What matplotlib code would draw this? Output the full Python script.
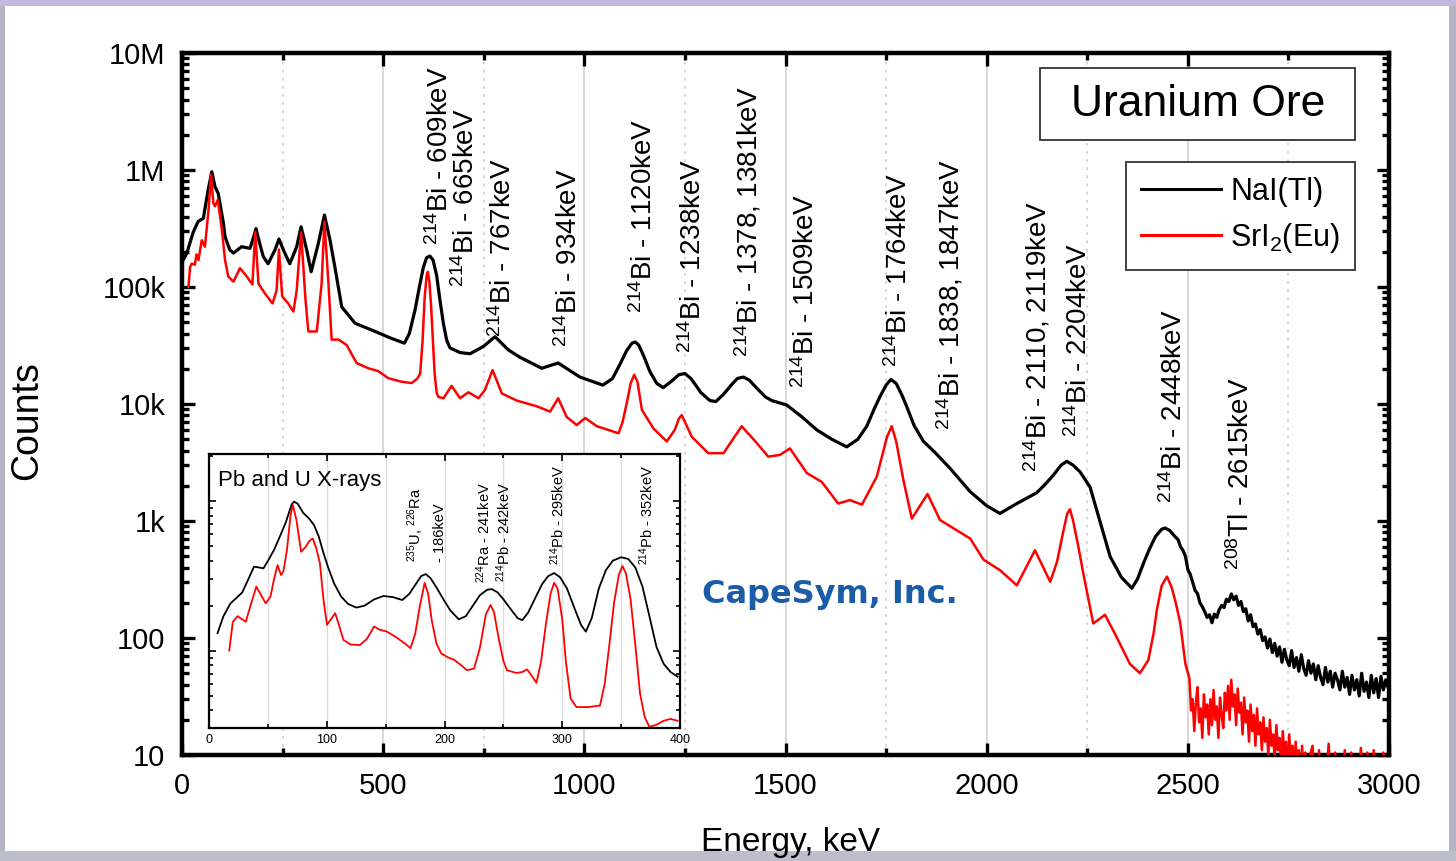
import matplotlib
matplotlib.use("Agg")
import matplotlib.pyplot as plt
from matplotlib import font_manager
from matplotlib.patches import Rectangle
from matplotlib.ticker import MultipleLocator, LogLocator, FuncFormatter, NullFormatter

plt.rcParams['font.family'] = ['Liberation Sans', 'DejaVu Sans']
plt.rcParams['mathtext.fontset'] = 'custom'
plt.rcParams['mathtext.rm'] = 'Liberation Sans'
plt.rcParams['mathtext.it'] = 'Liberation Sans:italic'
plt.rcParams['mathtext.default'] = 'regular'

installed = {f.name for f in font_manager.fontManager.ttflist}
tick_family = 'Liberation Sans Narrow' if 'Liberation Sans Narrow' in installed else 'Liberation Sans'
tick_size = 24 if tick_family == 'Liberation Sans Narrow' else 21

# ---- full spectra (keV, counts) ----
nai_keV = [3, 12, 28, 40, 53, 65, 74, 82, 90, 103, 107, 119, 128, 148, 169, 177, 184, 191,
           202, 214, 231, 241, 254, 268, 285, 296, 310, 321, 339, 354, 368, 380, 397, 430,
           480, 521, 553, 565, 579, 590, 600, 608, 616, 624, 633, 641, 650, 658, 666, 691,
           716, 749, 778, 811, 840, 894, 935, 989, 1046, 1070, 1089, 1105, 1118, 1126, 1135,
           1148, 1163, 1180, 1196, 1215, 1235, 1250, 1265, 1290, 1312, 1327, 1345, 1365,
           1380, 1395, 1410, 1430, 1450, 1466, 1503, 1540, 1578, 1615, 1652, 1680, 1702,
           1720, 1735, 1750, 1762, 1775, 1790, 1801, 1820, 1843, 1870, 1909, 1959, 2000,
           2033, 2075, 2124, 2145, 2166, 2185, 2199, 2215, 2232, 2257, 2282, 2307, 2335,
           2361, 2375, 2390, 2405, 2420, 2435, 2443, 2455, 2463,
           2470, 2476, 2482, 2488, 2494, 2500, 2506, 2512, 2518, 2524, 2530, 2536, 2542,
           2548, 2554, 2560, 2566, 2572, 2578, 2584, 2590, 2596, 2602, 2608, 2614, 2620,
           2626, 2632, 2638, 2644, 2650, 2656, 2662, 2668, 2674, 2680, 2686, 2692, 2698,
           2704, 2710, 2716, 2722, 2728, 2734, 2740, 2746, 2752, 2758, 2764, 2770, 2776,
           2782, 2788, 2794, 2800, 2806, 2812, 2818, 2824, 2830, 2836, 2842, 2848, 2854,
           2860, 2866, 2872, 2878, 2884, 2890, 2896, 2902, 2908, 2914, 2920, 2926, 2932,
           2938, 2944, 2950, 2956, 2962, 2968, 2974, 2980, 2986, 2992, 2998]
nai_counts = [170000, 195000, 295000, 363000, 386000, 676000, 966000, 720000, 631000, 350000,
              269000, 207000, 195000, 221000, 214000, 261000, 316000, 251000, 182000, 158000,
              207000, 257000, 200000, 158000, 221000, 327000, 207000, 135000, 237000, 412000,
              251000, 148000, 67600, 49000, 41700, 36300, 33100, 40000, 63100, 100000,
              148000, 178000, 184000, 170000, 125000, 77600, 48000, 35000, 30200, 27500,
              26900, 31000, 37600, 29000, 25100, 20200, 22400, 17000, 14500, 16500, 22000,
              28500, 33000, 33900, 32000, 25500, 18900, 15000, 13800, 15500, 17800, 18200,
              16500, 12500, 10700, 10500, 12000, 14500, 16500, 17000, 16000, 13500, 11500,
              10700, 9800, 7800, 6000, 5000, 4300, 5000, 6460, 9000, 11600, 14500, 16200,
              15000, 11800, 9550, 6500, 4790, 3900, 2820, 1780, 1350, 1160, 1410, 1740,
              2050, 2470, 3000, 3240, 3000, 2630, 1950, 980, 495, 330, 266, 320, 437, 580,
              740, 850, 871, 830, 770,
              725, 690, 600, 560, 500, 385, 350, 300, 255, 240, 200, 185, 168, 150, 158, 135,
              160, 150, 175, 190, 182, 215, 205, 238, 212, 228, 190, 205, 168, 178, 140, 158,
              125, 132, 108, 118, 95, 102, 82, 98, 75, 90, 70, 84, 62, 80, 65, 58, 78, 56, 68,
              52, 72, 55, 48, 64, 50, 60, 44, 58, 46, 40, 56, 42, 52, 38, 50, 44, 36, 52, 38,
              46, 33, 48, 36, 44, 32, 50, 35, 42, 31, 48, 34, 45, 31, 47, 36, 44, 38]

sri_keV = [16, 20, 24, 32, 36, 41, 49, 57, 66, 72, 78, 82, 89, 99, 107, 115, 128, 144, 161,
           175, 182, 190, 206, 225, 235, 241, 249, 264, 277, 285, 296, 307, 314, 335, 347,
           354, 364, 372, 389, 409, 434, 463, 488, 513, 546, 571, 585, 592, 598, 603, 608,
           611, 615, 619, 623, 628, 633, 637, 650, 670, 691, 712, 737, 753, 772, 795, 832,
           882, 915, 935, 956, 981, 1002, 1031, 1085, 1095, 1105, 1115, 1124, 1132, 1143,
           1172, 1205, 1225, 1235, 1242, 1252, 1267, 1308, 1346, 1391, 1429, 1457, 1486,
           1511, 1553, 1590, 1631, 1660, 1690, 1727, 1740, 1752, 1764, 1775, 1793, 1814,
           1853, 1884, 1926, 1959, 1992, 2033, 2075, 2120, 2158, 2175, 2190, 2200, 2207,
           2215, 2228, 2240, 2265, 2294, 2323, 2356, 2381, 2402, 2415, 2423, 2435, 2448,
           2460, 2470, 2481, 2494,
           2504, 2508, 2512, 2516, 2520, 2524, 2528, 2532, 2536, 2540, 2544, 2548, 2552,
           2556, 2560, 2564, 2568, 2572, 2576, 2580, 2584, 2588, 2592, 2596, 2600, 2604,
           2608, 2612, 2616, 2620, 2624, 2628, 2632, 2636, 2640, 2644, 2648, 2652, 2656,
           2660, 2664, 2668, 2672, 2676, 2680, 2684, 2688, 2692, 2696, 2700, 2704, 2708,
           2712, 2716, 2720, 2724, 2728, 2732, 2736, 2740, 2744, 2748, 2752, 2756, 2760,
           2764, 2768, 2772, 2776, 2780, 2784, 2788, 2792, 2796, 2800, 2810, 2818, 2826,
           2834, 2842, 2850, 2858, 2866, 2874, 2882, 2890, 2898, 2906, 2914, 2922, 2930,
           2938, 2946, 2954, 2962, 2970, 2978, 2986, 2994, 3000]
sri_counts = [100000, 148000, 158000, 155000, 190000, 170000, 251000, 221000, 457000, 912000,
              519000, 490000, 556000, 309000, 170000, 123000, 111000, 145000, 123000, 105000,
              295000, 107000, 88100, 72400, 93300, 209000, 83200, 72400, 61700, 93300, 292000,
              77600, 41700, 41700, 107000, 363000, 107000, 35500, 35500, 32000, 22400, 20200,
              19100, 16600, 15500, 15100, 16500, 18200, 35000, 80000, 125000, 135000, 110000,
              70000, 38000, 18000, 12500, 11500, 11200, 14300, 11200, 12600, 11200, 13200,
              19500, 12300, 10700, 9550, 8610, 11200, 7760, 6610, 7590, 6460, 5620, 7000,
              10000, 15000, 17800, 15500, 8910, 6170, 4790, 6030, 7500, 8040, 6800, 5250,
              3800, 3800, 6460, 4620, 3550, 3670, 4170, 2570, 2160, 1410, 1510, 1380, 2400,
              3600, 5200, 6460, 4800, 2240, 1050, 1700, 1020, 832, 708, 468, 380, 282, 562,
              302, 450, 800, 1150, 1260, 1000, 600, 359, 133, 158, 102, 60, 50, 65, 110, 174,
              280, 335, 270, 200, 135, 60,
              45, 24, 30, 16, 28, 38, 19, 25, 14, 33, 21, 27, 15, 30, 18, 36, 20, 26, 14, 31,
              22, 17, 34, 24, 39, 20, 44, 26, 33, 18, 37, 23, 28, 15, 31, 19, 24, 13, 27, 16,
              22, 12, 25, 15, 19, 11, 21, 13, 17, 10, 20, 12, 15, 9, 18, 11, 14, 8, 16, 10,
              13, 7, 15, 9, 12, 6, 13, 8, 11, 5, 12, 6, 10.5, 4, 9, 12, 4, 11, 3, 5, 12.5, 4,
              10.5, 3, 4, 11, 3, 10.5, 4, 3, 11.5, 4, 10.5, 3, 11, 4, 3, 10.5, 4, 3]

# ---- low-energy close-up (keV, relative counts) ----
nai_low_keV = [7, 12, 18, 23, 28, 34, 38, 42, 46, 50, 55, 60, 65, 70, 72, 75, 80, 85, 89, 93,
               97, 101, 106, 112, 118, 125, 132, 140, 148, 156, 164, 170, 175, 180, 184, 188,
               193, 199, 205, 212, 218, 224, 230, 236, 240, 245, 250, 256, 262, 266, 271, 277,
               283, 288, 293, 298, 304, 310, 316, 320, 325, 331, 337, 343, 350, 356, 362, 368,
               374, 380, 386, 392, 398]
nai_low_counts = [131, 170, 207, 225, 245, 310, 364, 360, 355, 400, 471, 580, 720, 950, 990,
                  960, 830, 760, 690, 580, 450, 360, 282, 230, 205, 194, 200, 220, 232, 228,
                  218, 240, 275, 315, 325, 305, 265, 220, 185, 162, 170, 200, 235, 255, 258,
                  245, 220, 190, 165, 160, 180, 225, 280, 315, 330, 310, 260, 195, 148, 134,
                  165, 260, 345, 400, 421, 410, 360, 270, 170, 106, 82, 72, 67]
sri_low_keV = [17, 20, 24, 27, 31, 35, 40, 44, 48, 52, 55, 58, 61, 63, 66, 69, 71, 74, 78, 82,
               85, 88, 91, 94, 97, 100, 104, 107, 110, 114, 120, 128, 134, 140, 145, 151, 156,
               160, 166, 171, 175, 179, 183, 186, 189, 193, 197, 203, 208, 214, 219, 225, 230,
               235, 239, 242, 246, 250, 253, 261, 266, 270, 274, 278, 282, 286, 290, 293, 296,
               300, 303, 307, 312, 322, 332, 336, 340, 344, 348, 351, 354, 358, 362, 366, 370,
               374, 380, 386, 392, 398]
sri_low_counts = [100, 156, 170, 164, 156, 200, 268, 235, 207, 230, 300, 373, 320, 340, 471,
                  800, 940, 750, 458, 495, 540, 562, 480, 384, 220, 149, 165, 178, 150, 118,
                  110, 109, 120, 145, 138, 134, 127, 121, 112, 104, 130, 200, 284, 240, 160,
                  112, 96, 90, 87, 80, 74, 76, 105, 175, 202, 180, 120, 85, 74, 71, 72, 75, 68,
                  61, 85, 150, 240, 284, 260, 160, 85, 48, 42, 42, 43, 60, 110, 210, 320, 368,
                  330, 220, 110, 52, 36, 31, 32, 34, 35, 34]

# ---- peak labels: text, anchor energy (keV), anchor counts ----
peak_labels = ['$^{214}$Bi - 609keV', '$^{214}$Bi - 665keV', '$^{214}$Bi - 767keV',
               '$^{214}$Bi - 934keV', '$^{214}$Bi - 1120keV', '$^{214}$Bi - 1238keV',
               '$^{214}$Bi - 1378, 1381keV', '$^{214}$Bi - 1509keV', '$^{214}$Bi - 1764keV',
               '$^{214}$Bi - 1838, 1847keV', '$^{214}$Bi - 2110, 2119keV',
               '$^{214}$Bi - 2204keV', '$^{214}$Bi - 2448keV', '$^{208}$Tl - 2615keV']
peak_label_keV = [642, 706, 799, 961, 1148, 1270, 1408, 1551, 1782, 1909, 2125, 2229, 2465, 2632]
peak_label_counts = [229000, 100000, 37400, 30700, 60000, 27300, 25200, 13700, 20700, 6000,
                     2620, 5220, 1430, 381]

inset_labels = ['$^{235}$U, $^{226}$Ra', '- 186keV', '$^{224}$Ra - 241keV',
                '$^{214}$Pb - 242keV', '$^{214}$Pb - 295keV', '$^{214}$Pb - 352keV']
inset_label_keV = [175, 196, 233, 250, 296, 372]
inset_label_counts = [394, 394, 283, 289, 373, 373]

y_tick_names = {10: '10', 100: '100', 1000: '1k', 10000: '10k', 100000: '100k',
                1000000: '1M', 10000000: '10M'}

W, H = 1456, 861
fig = plt.figure(figsize=(W / 100, H / 100), dpi=100, facecolor='white')

# thin frame around the slide
for x0, y0, w, h, c in [(0, 0, 5, H, '#b4b4c2'), (W - 7, 0, 7, H, '#b4b4c2'),
                        (0, H - 6, W, 6, '#c7b6e2'), (0, 0, W, 10, '#bdbdcb')]:
    fig.add_artist(Rectangle((x0 / W, y0 / H), w / W, h / H, transform=fig.transFigure,
                             color=c, lw=0, zorder=-5))

ax = fig.add_axes([182 / W, (H - 755) / H, 1207 / W, 702 / H])
ax.plot(nai_keV, nai_counts, color='black', lw=2.3, label='NaI(Tl)', zorder=3)
ax.plot(sri_keV, sri_counts, color='#ff0000', lw=1.8, label='SrI$_2$(Eu)', zorder=4)
ax.set_yscale('log')
ax.set_xlim(0, 3000)
ax.set_ylim(10, 1e7)

ax.xaxis.set_major_locator(MultipleLocator(500))
ax.xaxis.set_minor_locator(MultipleLocator(250))
ax.yaxis.set_major_locator(LogLocator(base=10))
ax.yaxis.set_minor_locator(LogLocator(base=10, subs=range(2, 10)))
ax.yaxis.set_major_formatter(FuncFormatter(lambda v, p: y_tick_names.get(int(round(v)), '')))
ax.yaxis.set_minor_formatter(NullFormatter())
ax.grid(which='major', axis='x', color='#d4d4d4', lw=1.3, zorder=0)
ax.grid(which='minor', axis='x', color='#d4d4d4', lw=1.3, ls=(0, (1.5, 3)), zorder=0)
ax.tick_params(which='both', direction='in', top=True, right=True, width=2.4)
ax.tick_params(which='major', length=9, pad=12)
ax.tick_params(which='minor', length=5)
for lab in ax.get_xticklabels() + ax.get_yticklabels():
    lab.set_family(tick_family)
    lab.set_fontsize(tick_size)
for sp in ax.spines.values():
    sp.set_linewidth(3.2)

ax.set_xlabel('Energy, keV', fontsize=24)
ax.set_ylabel('Counts', fontsize=27)
ax.xaxis.set_label_coords(0.504, -0.103)
ax.yaxis.set_label_coords(-0.113, 0.477)

for txt, e, c in zip(peak_labels, peak_label_keV, peak_label_counts):
    ax.text(e, c, txt, rotation=90, rotation_mode='anchor', ha='left', va='center',
            fontsize=20, zorder=5)

# sample name box
ax.add_patch(Rectangle((0.711, 0.876), 0.261, 0.103, transform=ax.transAxes,
                       facecolor='white', edgecolor='#333333', lw=1.3, zorder=6))
ax.text(0.8415, 0.927, 'Uranium Ore', transform=ax.transAxes, ha='center', va='center',
        fontsize=32, zorder=7)

leg = ax.legend(loc='upper right', bbox_to_anchor=(0.972, 0.845), fontsize=22,
                fancybox=False, framealpha=1, edgecolor='#333333', borderaxespad=0,
                handlelength=2.6, handletextpad=0.3, labelspacing=0.45, borderpad=0.5)
leg.get_frame().set_linewidth(1.3)
for ln in leg.get_lines():
    ln.set_linewidth(2.2)

ax.text(0.537, 0.228, 'CapeSym, Inc.', transform=ax.transAxes, ha='center', va='center',
        fontsize=23, fontweight='bold', family='DejaVu Sans', color='#1b5ca8', zorder=5)

# inset: Pb and U X-ray region
axin = fig.add_axes([209.3 / W, (H - 728.3) / H, 470.7 / W, 274.3 / H])
axin.plot(nai_low_keV, nai_low_counts, color='black', lw=1.3)
axin.plot(sri_low_keV, sri_low_counts, color='#ff0000', lw=1.3)
axin.set_yscale('log')
axin.set_xlim(0, 400)
axin.set_ylim(30.3, 2061)
axin.xaxis.set_major_locator(MultipleLocator(100))
axin.xaxis.set_minor_locator(MultipleLocator(50))
axin.yaxis.set_major_formatter(NullFormatter())
axin.yaxis.set_minor_formatter(NullFormatter())
axin.grid(which='both', axis='x', color='#dcdcdc', lw=0.9)
axin.tick_params(which='both', direction='in', top=True, right=True, width=1.2)
axin.tick_params(which='major', length=5, labelsize=9, pad=4)
axin.tick_params(which='minor', length=3)
for sp in axin.spines.values():
    sp.set_linewidth(1.6)
axin.text(0.018, 0.905, 'Pb and U X-rays', transform=axin.transAxes, ha='left',
          va='center', fontsize=16)
for txt, e, c in zip(inset_labels, inset_label_keV, inset_label_counts):
    axin.text(e, c, txt, rotation=90, rotation_mode='anchor', ha='left', va='center',
              fontsize=10.5)

fig.savefig('out.png', dpi=100, facecolor='white')
